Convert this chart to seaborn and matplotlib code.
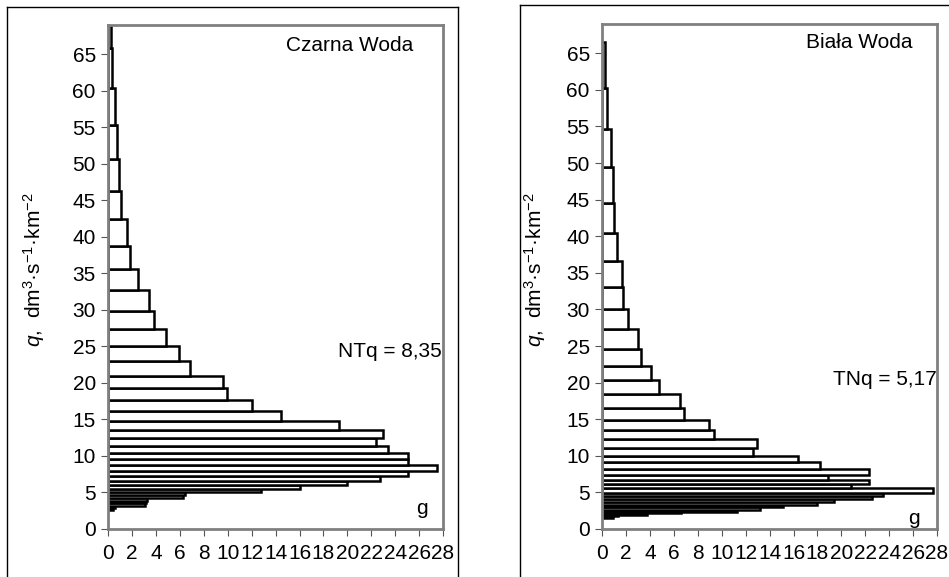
import numpy as np
import pandas as pd
import matplotlib
matplotlib.use("Agg")
import matplotlib.pyplot as plt
from matplotlib.lines import Line2D
import seaborn as sns

# ---- data (class edges of q, dm3/s/km2, top -> bottom; g values) ----
czarna_edges = [72, 65.8, 60.4, 55.3, 50.6, 46.3, 42.4, 38.8, 35.6, 32.7, 29.85, 27.4, 25.0,
                23.05, 21.0, 19.3, 17.7, 16.1, 14.75, 13.5, 12.4, 11.4, 10.4, 9.55, 8.73, 8.0,
                7.28, 6.63, 6.05, 5.5, 5.0, 4.6, 4.2, 3.85, 3.5, 3.2, 2.9, 2.65]
czarna_g = [0.25, 0.35, 0.56, 0.75, 0.92, 1.06, 1.59, 1.84, 2.46, 3.44,
            3.83, 4.83, 5.89, 6.84, 9.58, 9.92, 12.0, 14.47, 19.27, 23.0,
            22.4, 23.4, 25.06, 25.06, 27.5, 25.06, 22.7, 19.97, 16.0, 12.8,
            6.42, 6.28, 3.2, 3.15, 3.1, 0.56, 0.4]

biala_edges = [66.6, 60.2, 54.6, 49.4, 44.6, 40.5, 36.6, 33.1, 30.05, 27.3, 24.6, 22.3, 20.3,
               18.4, 16.5, 14.9, 13.5, 12.25, 11.0, 9.97, 9.1, 8.2, 7.4, 6.7, 6.1, 5.56, 4.96,
               4.51, 4.05, 3.69, 3.3, 2.95, 2.6, 2.35, 2.15, 1.98, 1.75, 1.45]
biala_g = [0.25, 0.42, 0.7, 0.92, 0.97, 1.2, 1.62, 1.75, 2.12, 2.95,
           3.2, 4.04, 4.74, 6.49, 6.87, 8.9, 9.33, 12.98, 12.6, 16.4,
           18.2, 22.3, 18.9, 22.3, 20.8, 27.7, 23.5, 22.6, 19.4, 18.0,
           15.1, 13.2, 11.3, 6.6, 3.7, 1.34, 0.92]

titles = ["Czarna Woda", "Biała Woda"]
notes = ["NTq = 8,35", "TNq = 5,17"]
y_ticks = list(range(0, 70, 5))
x_ticks = list(range(0, 30, 2))

plt.rcParams['font.family'] = ['Liberation Sans', 'DejaVu Sans']
plt.rcParams['mathtext.fontset'] = 'custom'
plt.rcParams['mathtext.rm'] = 'Liberation Sans'
plt.rcParams['mathtext.it'] = 'Liberation Sans:italic'

fig = plt.figure(figsize=(9.49, 5.77), dpi=100)
W, H = 949, 577

def px_axes(x0, y0, x1, y1):
    return fig.add_axes([x0 / W, 1 - y1 / H, (x1 - x0) / W, (y1 - y0) / H])

axes = [px_axes(108.3, 25, 443, 529), px_axes(602.3, 24, 937, 529)]
datasets = [(czarna_edges, czarna_g), (biala_edges, biala_g)]

ylabel = r"$q$,  dm$^{3}$·s$^{-1}$·km$^{-2}$"
label_x = [-0.183, -0.162]
title_pos = [(0.910, 0.960), (0.928, 0.964)]
note_pos = [(0.996, 0.352), (0.998, 0.297)]
g_pos = [(0.921, 0.030), (0.913, 0.010)]

for i, ax in enumerate(axes):
    edges, g = datasets[i]
    mids = [(edges[k] + edges[k + 1]) / 2 for k in range(len(g))]
    df = pd.DataFrame({"q": mids, "g": g})
    sns.histplot(data=df, y="q", weights="g", bins=sorted(edges), ax=ax,
                 color="white", edgecolor="black", linewidth=1.8, alpha=1)
    ax.set_xlim(0, 28)
    ax.set_ylim(0, 69)
    ax.set_xticks(x_ticks)
    ax.set_yticks(y_ticks)
    ax.tick_params(axis="both", labelsize=15, length=5, width=0.8, color="#555555", pad=4)
    ax.tick_params(axis="x", pad=6)
    for s in ax.spines.values():
        s.set_color("#808080")
        s.set_linewidth(2)
    ax.set_xlabel("")
    ax.set_ylabel(ylabel, fontsize=15)
    ax.yaxis.set_label_coords(label_x[i], 0.514)
    ax.text(title_pos[i][0], title_pos[i][1], titles[i], transform=ax.transAxes,
            ha="right", va="center", fontsize=15)
    ax.text(note_pos[i][0], note_pos[i][1], notes[i], transform=ax.transAxes,
            ha="right", va="center", fontsize=15)
    ax.text(g_pos[i][0], g_pos[i][1], "g", transform=ax.transAxes,
            ha="left", va="baseline", fontsize=15)

# outer chart-area borders
def fline(x0, y0, x1, y1):
    fig.add_artist(Line2D([x0 / W, x1 / W], [1 - y0 / H, 1 - y1 / H],
                          color="black", linewidth=1.0, transform=fig.transFigure))

fline(7, 7, 457.5, 7)
fline(7, 7, 7, 577)
fline(457.5, 7, 457.5, 577)
fline(520, 5, 949, 5)
fline(520, 5, 520, 577)

fig.savefig("out.png", dpi=100)
